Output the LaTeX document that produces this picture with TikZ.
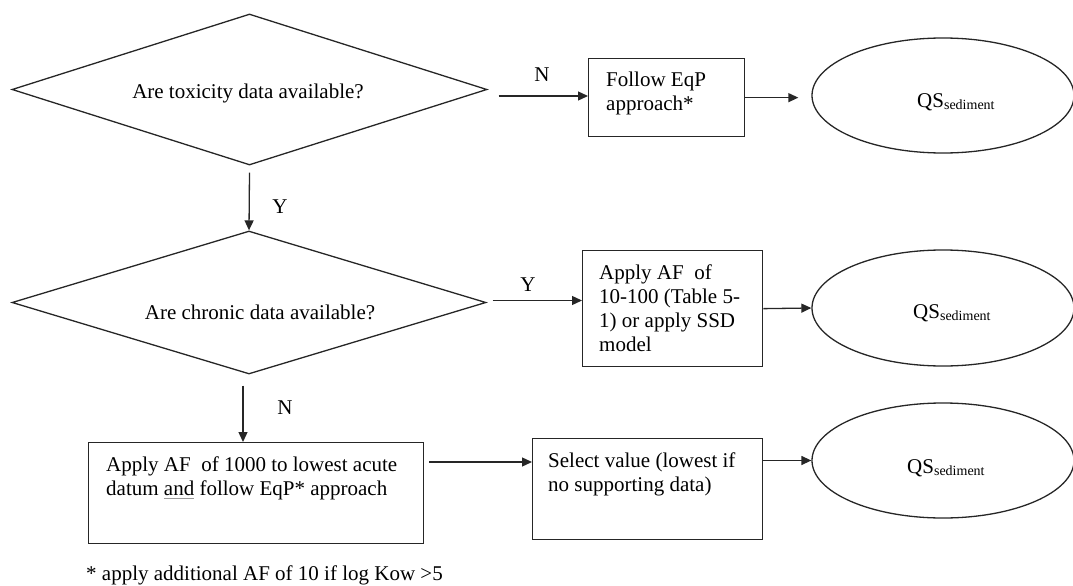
\documentclass[tikz,border=0pt]{standalone}
\usepackage{fontspec}
\setmainfont{Liberation Serif}
\usetikzlibrary{shapes.geometric,arrows.meta,calc}
\newcommand\grayul[1]{\setbox0\hbox{#1}\rlap{\textcolor{black!40}{\rule[-3pt]{\wd0}{1.2pt}}}#1}
\newcommand\qsub[1]{\raisebox{-2.5pt}{\fontsize{14}{14}\selectfont #1}}
\begin{document}
\begin{tikzpicture}[x=1pt,y=-1pt,
  font=\fontsize{21}{24}\selectfont,
  line/.style={draw=black!85, line width=1.3pt},
  arr/.style={line, -{Triangle[length=10pt,width=9pt]}},
  dia/.style={shape=diamond, line, inner sep=0pt},
  box/.style={shape=rectangle, line, inner sep=0pt, anchor=north west},
  ell/.style={shape=ellipse, line, inner sep=0pt, minimum width=262pt},
  txt/.style={anchor=north west, align=left, inner sep=0pt},
  qs/.style={anchor=base west, inner sep=0pt},
  lbl/.style={inner sep=0pt}]
\useasboundingbox (0,0) rectangle (1073,586);

% row 1
\node[dia, minimum width=475pt, minimum height=151pt] (d1) at (249.5,89.5) {};
\node[anchor=base, inner sep=0pt] (t1) at (248,99) {Are toxicity data available?};
\node[box, minimum width=156pt, minimum height=78pt] (b1) at (588,58) {};
\node[txt] (tb1) at (606,72) {Follow EqP\\approach*};
\node[ell, minimum height=115pt] (e1) at (943,95.5) {};
\node[qs] (q1) at (917,107) {QS\qsub{sediment}};

% row 2
\node[dia, minimum width=474pt, minimum height=143pt] (d2) at (249,302.5) {};
\node[anchor=base, inner sep=0pt] (t2) at (260,319.5) {Are chronic data available?};
\node[box, minimum width=180pt, minimum height=116pt] (b2) at (582,250) {};
\node[txt] (tb2) at (599,264.5) {Apply AF\ \ of\\10-100 (Table 5-\\1) or apply SSD\\model};
\node[ell, minimum height=116pt] (e2) at (943,308) {};
\node[qs] (q2) at (913,318) {QS\qsub{sediment}};

% row 3
\node[box, minimum width=335pt, minimum height=101pt] (b3) at (88,442) {};
\node[txt] (tb3) at (106,457) {Apply AF\ \ of 1000 to lowest acute\\datum \grayul{and} follow EqP* approach};
\node[box, minimum width=230pt, minimum height=101pt] (b4) at (532,438) {};
\node[txt] (tb4) at (548,452.5) {Select value (lowest if\\no supporting data)};
\node[ell, minimum height=115pt] (e3) at (943,460.5) {};
\node[qs] (q3) at (907,473) {QS\qsub{sediment}};

% footnote
\node[anchor=base west, inner sep=0pt] (fn) at (86,580) {* apply additional AF of 10 if log Kow >5};

% connectors
\coordinate (n1s) at ($(d1.east)+(11,6.5)$);
\draw[arr] (n1s) -- (n1s -| b1.west);
\node[lbl] (ln1) at (542,75) {N};
\coordinate (e1in) at ([xshift=-13pt]e1.west);
\draw[arr] (b1.east) -- (e1in |- b1.east);

\draw[arr] ([yshift=-7pt]d1.south) -- (d2.north);
\node[lbl] (ly1) at (280,207) {Y};

\coordinate (y2s) at ($(d2.east)+(6,-2)$);
\draw[arr] (y2s) -- (y2s -| b2.west);
\node[lbl] (ly2) at (528,285) {Y};
\draw[arr] (b2.east) -- (e2.west);

\coordinate (n3s) at ($(d2.south)+(-6,11)$);
\draw[arr] (n3s) -- (n3s |- b3.north);
\node[lbl] (ln3) at (285,408) {N};

\coordinate (b3o) at ($(b3.north east)+(5,20)$);
\draw[arr] (b3o) -- (b3o -| b4.west);
\draw[arr] (b4.east |- e3.west) -- (e3.west);
\end{tikzpicture}
\end{document}
